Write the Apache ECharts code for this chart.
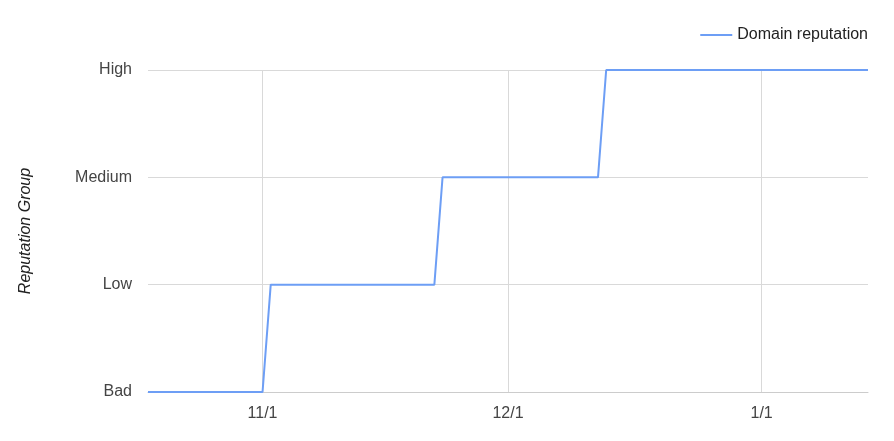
<!DOCTYPE html>
<html>
<head>
<meta charset="utf-8">
<script src="https://cdn.jsdelivr.net/npm/echarts@6/dist/echarts.min.js"></script>
<style>
html,body{margin:0;padding:0;background:#fff;}
#chart{width:894px;height:441px;}
</style>
</head>
<body>
<div id="chart"></div>
<script>
// Data
const levelNames = ['Bad', 'Low', 'Medium', 'High'];
const dates = ['2017-10-18', '2017-11-01', '2017-11-02', '2017-11-22', '2017-11-23', '2017-12-12', '2017-12-13', '2018-01-14'];
const levels = [0, 0, 1, 1, 2, 2, 3, 3];
const seriesName = 'Domain reputation';
const yTitle = 'Reputation Group';

function toLocal(s) {
  const p = s.split('-').map(Number);
  return new Date(p[0], p[1] - 1, p[2]).getTime();
}
const points = dates.map((d, i) => [toLocal(d), levels[i]]);

const chart = echarts.init(document.getElementById('chart'));
const font = 'Liberation Sans, Arial, sans-serif';
chart.setOption({
  animation: false,
  textStyle: { fontFamily: font },
  legend: {
    right: 21, top: 22,
    itemWidth: 32, itemHeight: 16,
    itemGap: 10,
    textStyle: { fontSize: 16, color: '#222', fontFamily: font },
    data: [{ name: seriesName, icon: 'path://M0,7L32,7L32,9L0,9Z' }]
  },
  grid: { left: 148, right: 26, top: 70, bottom: 49, containLabel: false },
  xAxis: {
    type: 'time',
    min: toLocal(dates[0]),
    max: toLocal(dates[dates.length - 1]),
    splitNumber: 3,
    axisLine: { show: true, lineStyle: { color: '#ccc', width: 1 } },
    axisTick: { show: false },
    axisLabel: {
      fontSize: 16, color: '#444', margin: 14, fontFamily: font,
      hideOverlap: false,
      showMinLabel: false, showMaxLabel: false,
      formatter: function (v) {
        const d = new Date(v);
        return (d.getMonth() + 1) + '/' + d.getDate();
      }
    },
    splitLine: { show: true, showMinLine: false, showMaxLine: false, lineStyle: { color: '#d9d9d9', width: 1 } }
  },
  yAxis: {
    type: 'value',
    min: 0, max: 3, interval: 1,
    name: yTitle,
    nameLocation: 'middle',
    nameGap: 114,
    nameRotate: 90,
    nameTextStyle: { fontSize: 16, fontStyle: 'italic', color: '#222', fontFamily: font },
    axisLine: { show: false },
    axisTick: { show: false },
    axisLabel: {
      fontSize: 16, color: '#444', margin: 16, fontFamily: font,
      formatter: function (v) { return levelNames[v] || ''; }
    },
    splitLine: { show: true, lineStyle: { color: '#d9d9d9', width: 1 } }
  },
  series: [{
    name: seriesName,
    type: 'line',
    data: points,
    symbol: 'none',
    lineStyle: { color: '#6d9ef5', width: 2 },
    itemStyle: { color: '#6d9ef5' }
  }]
});
</script>
</body>
</html>
